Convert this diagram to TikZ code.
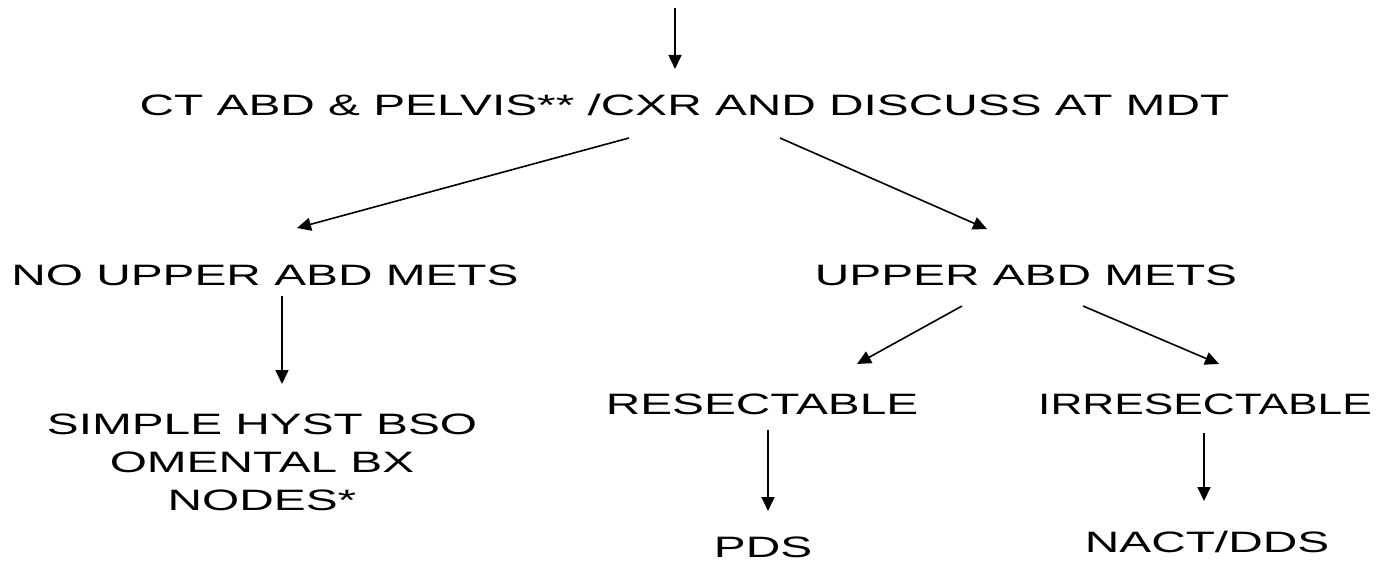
\documentclass[tikz,border=0pt]{standalone}
\usepackage{fontspec}
\setmainfont{Liberation Sans}
\usetikzlibrary{arrows.meta}
\newcommand{\wide}[2]{\scalebox{#1}[1]{#2}}
\begin{document}
\begin{tikzpicture}[x=1pt,y=-1pt,
  lbl/.style={font=\fontsize{29.5}{38}\selectfont, inner sep=0pt, align=center, anchor=base},
  arr/.style={line width=1.6pt, -{Triangle[length=14pt,width=13pt]}}]
\useasboundingbox (0,0) rectangle (1396,561);
\node[lbl] (ct) at (684.5,116) {\wide{1.62}{CT ABD \& PELVIS** /CXR AND DISCUSS AT MDT}};
\node[lbl] (no) at (265,285) {\wide{1.62}{NO UPPER ABD METS}};
\node[lbl] (up) at (1026,285) {\wide{1.62}{UPPER ABD METS}};
\node[lbl] (simple) at (262,434) {\wide{1.62}{SIMPLE HYST BSO}};
\node[lbl] (omental) at (262,472) {\wide{1.62}{OMENTAL BX}};
\node[lbl] (nodes) at (262,510) {\wide{1.62}{NODES*}};
\node[lbl] (res) at (762,414) {\wide{1.62}{RESECTABLE}};
\node[lbl] (irr) at (1205,414) {\wide{1.5}{IRRESECTABLE}};
\node[lbl] (pds) at (763,557) {\wide{1.62}{PDS}};
\node[lbl] (nact) at (1207,552) {\wide{1.62}{NACT/DDS}};
\coordinate (t0) at (675,8);
\coordinate (t1) at (675,69);
\coordinate (a0) at (629,138);
\coordinate (a1) at (297,228);
\coordinate (b0) at (780,138);
\coordinate (b1) at (987,229);
\coordinate (c0) at (282,296);
\coordinate (c1) at (282,384);
\coordinate (d0) at (962,306);
\coordinate (d1) at (857,364);
\coordinate (e0) at (1083,306);
\coordinate (e1) at (1219,364);
\coordinate (f0) at (768,430);
\coordinate (f1) at (768,511);
\coordinate (g0) at (1204,433);
\coordinate (g1) at (1204,501);
\draw[arr] (t0) -- (t1);
\draw[arr] (a0) -- (a1);
\draw[arr] (b0) -- (b1);
\draw[arr] (c0) -- (c1);
\draw[arr] (d0) -- (d1);
\draw[arr] (e0) -- (e1);
\draw[arr] (f0) -- (f1);
\draw[arr] (g0) -- (g1);
\end{tikzpicture}
\end{document}
